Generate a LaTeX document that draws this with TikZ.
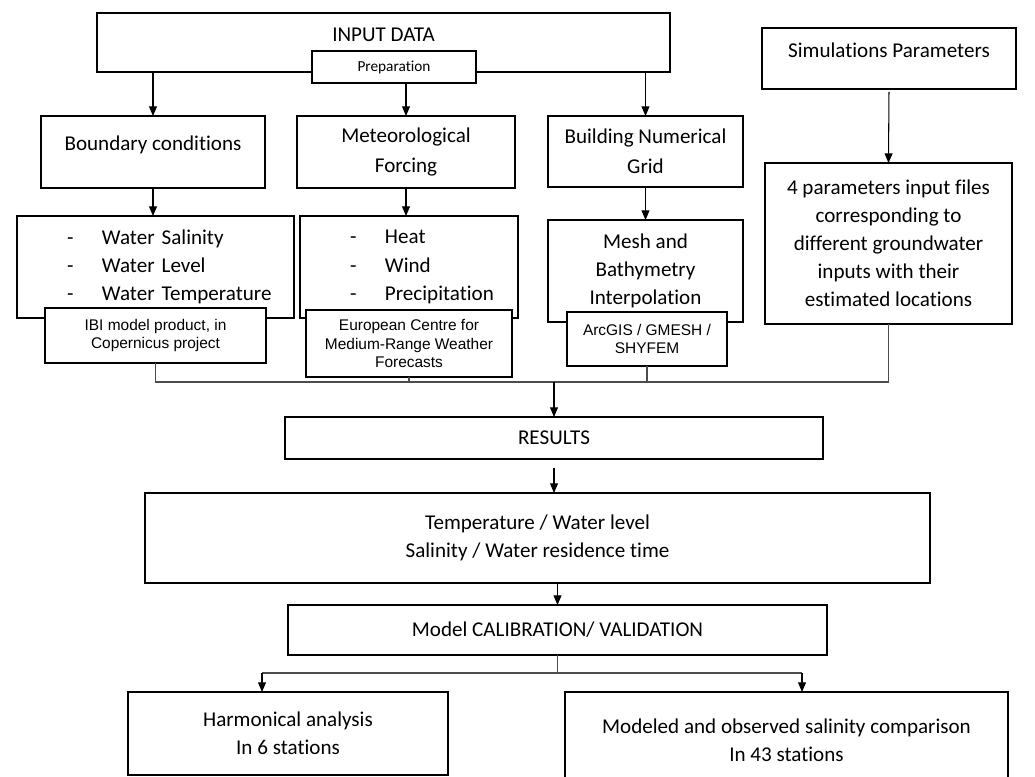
\documentclass[tikz,border=0pt]{standalone}
\usepackage{fontspec}
\setmainfont{Carlito}[Ligatures=NoCommon]
\newfontfamily\arialfont{Liberation Sans}
\usetikzlibrary{arrows.meta}
\newcommand{\dashitem}[1]{\hspace*{1.0cm}\makebox[0.7cm][l]{-}\mbox{#1}}

\begin{document}
\begin{tikzpicture}[
  x=0.02cm, y=-0.02cm,
  box/.style={draw, line width=1.1pt, fill=white, inner sep=2pt, outer sep=0pt,
              align=center, font=\fontsize{12}{16}\selectfont},
  listbox/.style={box, inner xsep=0pt, align=left},
  src/.style={box, line width=1pt, font=\arialfont\fontsize{8.8}{10.3}\selectfont},
  arr/.style={-{Triangle[length=5.5pt,width=4.5pt]}, line width=0.6pt},
  link/.style={line width=0.6pt, draw=black!70}
]
\useasboundingbox (0,0) rectangle (1035,777);
\clip (0,0) rectangle (1035,777);

% input data
\node[box, minimum width=11.46cm, minimum height=1.18cm, text depth=8.5pt] (inp) at (383.5,42.5) {INPUT DATA};
\node[box, line width=1pt, minimum width=3.28cm, minimum height=0.64cm,
      font=\fontsize{8.7}{10}\selectfont] (prep) at (394,67) {Preparation};
\node[box, minimum width=5.08cm, minimum height=1.22cm, text depth=9.5pt] (sim) at (889,58.5) {Simulations Parameters};

% second row
\node[box, minimum width=4.48cm, minimum height=1.44cm, text depth=10.5pt] (bc) at (153,152) {Boundary conditions};
\node[box, minimum width=4.36cm, minimum height=1.44cm, font=\fontsize{12}{17}\selectfont] (met) at (406,152) {Meteorological\\Forcing};
\node[box, minimum width=3.9cm, minimum height=1.42cm, font=\fontsize{12}{17}\selectfont] (bng) at (645.5,151.5) {Building Numerical\\Grid};
\node[box, minimum width=4.94cm, minimum height=3.22cm] (par) at (888.5,243.5)
  {4 parameters input files\\corresponding to\\different groundwater\\inputs with their\\estimated locations};

% data boxes with sources
\node[listbox, text width=5.54cm, minimum height=2.04cm] (sal) at (155.5,267)
  {\dashitem{Water Salinity}\\\dashitem{Water Level}\\\dashitem{Water Temperature}};
\node[src, minimum width=4.42cm, minimum height=1.1cm] (ibi) at (155.5,335.5) {IBI model product, in\\Copernicus project};
\node[listbox, text width=4.36cm, minimum height=2.04cm] (heat) at (409,267)
  {\dashitem{Heat}\\\dashitem{Wind}\\\dashitem{Precipitation}};
\node[src, minimum width=4.12cm, minimum height=1.34cm] (ecm) at (409,343.5) {European Centre for\\Medium-Range Weather\\Forecasts};
\node[box, minimum width=3.9cm, minimum height=2.04cm] (mesh) at (645.5,271) {Mesh and\\Bathymetry\\Interpolation};
\node[src, minimum width=3.2cm, minimum height=1.08cm] (arc) at (647,339) {ArcGIS / GMESH /\\SHYFEM};

% results and validation
\node[box, minimum width=10.76cm, minimum height=0.84cm] (res) at (554,438) {RESULTS};
\node[box, minimum width=15.7cm, minimum height=1.8cm] (out) at (537.5,538) {Temperature / Water level\\Salinity / Water residence time};
\node[box, minimum width=10.78cm, minimum height=1cm] (cal) at (557.5,630) {Model CALIBRATION/ VALIDATION};
\node[box, minimum width=6.4cm, minimum height=1.66cm] (har) at (288,733.5) {Harmonical analysis\\In 6 stations};
\node[box, minimum width=8.86cm, minimum height=1.92cm] (cmp) at (786.5,740) {Modeled and observed salinity comparison\\In 43 stations};

% arrows
\draw[arr] (inp.south -| bc.north) -- (bc.north);
\draw[arr] (prep.south -| met.north) -- (met.north);
\draw[arr] (inp.south -| bng.north) -- (bng.north);
\draw[arr, shorten <=0.06cm] (sim.south) -- (par.north);
\draw[arr] (bc.south) -- (bc.south |- sal.north);
\draw[arr] (met.south) -- (met.south |- heat.north);
\draw[arr] (bng.south) -- (bng.south |- mesh.north);

\coordinate (jn) at (554,382);
\draw[link] (ibi.south) |- (par.south |- jn) -- (par.south);
\draw[link] (ecm.south) -- (ecm.south |- jn);
\draw[link] (arc.south) -- (arc.south |- jn);
\draw[arr] (jn) -- (jn |- res.north);

\draw[arr, shorten <=0.18cm] (res.south) -- (res.south |- out.north);
\draw[arr] (cal.north |- out.south) -- (cal.north);
\coordinate (sl) at (262,673);
\coordinate (sr) at (802,673);
\draw[link] (cal.south) -- (cal.south |- sl);
\draw[link] (sl) -- (sr);
\draw[arr] (sl) -- (sl |- har.north);
\draw[arr] (sr) -- (sr |- cmp.north);
\end{tikzpicture}
\end{document}
